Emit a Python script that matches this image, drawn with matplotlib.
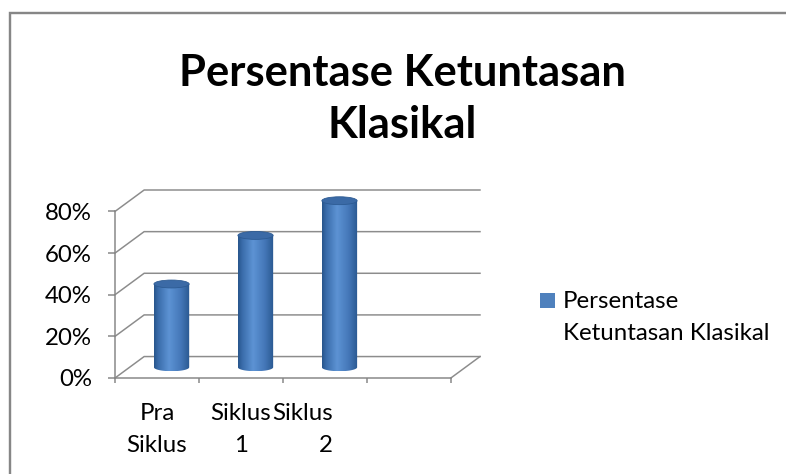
import numpy as np
import matplotlib.pyplot as plt
from matplotlib.patches import Ellipse, Rectangle, PathPatch
from matplotlib.path import Path
from matplotlib.colors import LinearSegmentedColormap
from matplotlib.transforms import ScaledTranslation

W, H = 786, 474
DPI = 72  # 1 pt == 1 px

categories = ["Pra\nSiklus", "Siklus\n1", "Siklus\n2"]
values = [0.40, 0.6333, 0.80]
y_ticks = [0.0, 0.2, 0.4, 0.6, 0.8]
y_labels = ["0%", "20%", "40%", "60%", "80%"]
n_slots = 4  # excel keeps an empty 4th slot on the axis
title = "Persentase Ketuntasan\nKlasikal"
legend_label = "Persentase\nKetuntasan Klasikal"

FONT = "Lato"
GRID = "#8c8c8c"
BLUE = "#4F81BD"

# depth of the 3d box (back wall offset), data units
DX, DY = 0.347, 0.103
BAR_W = 0.42
ELL_H = 0.038

plt.rcParams['font.family'] = FONT

fig = plt.figure(figsize=(W / DPI, H / DPI), dpi=DPI)


def fx(px):
    return px / W


def fy(py):
    return 1 - py / H


# outer frame (runs off the right/bottom edge)
fig.patches.append(Rectangle((fx(9.5), fy(H + 20)), 1.2, fy(12.8) - fy(H + 20),
                             transform=fig.transFigure, fill=False,
                             ec="#868686", lw=2.4))

ax = fig.add_axes([fx(115), fy(378), fx(480) - fx(115), (378 - 190) / H])
ax.set_xlim(0, n_slots + DX)
ax.set_ylim(0, max(y_ticks) + DY)
ax.patch.set_visible(False)

# front axes
for s in ["top", "right"]:
    ax.spines[s].set_visible(False)
ax.spines["left"].set_bounds(0, max(y_ticks))
ax.spines["bottom"].set_bounds(0, n_slots)
for s in ["left", "bottom"]:
    ax.spines[s].set_color("#868686")
    ax.spines[s].set_linewidth(1.5)

ax.set_yticks(y_ticks, y_labels)
ax.set_xticks(range(n_slots + 1), [""] * (n_slots + 1))
ax.set_xticks([i + 0.5 for i in range(len(categories))], categories, minor=True)
ax.tick_params(axis="y", length=7, width=1.5, color="#868686", pad=16,
               labelsize=24)
ax.tick_params(axis="x", which="major", length=5, width=1.5, color="#868686")
ax.tick_params(axis="x", which="minor", length=0, pad=25, labelsize=24)
for lbl in ax.get_xticklabels(minor=True):
    lbl.set_linespacing(1.63)
# last label sits right-aligned in excel, pushed a bit right
last = ax.get_xticklabels(minor=True)[-1]
last.set_horizontalalignment("right")
last.set_multialignment("right")
last.set_transform(last.get_transform() +
                   ScaledTranslation(8 / DPI, 0, fig.dpi_scale_trans))

# back wall gridlines + side wall diagonals
for v in y_ticks:
    ax.plot([0, DX, n_slots + DX], [v, v + DY, v + DY], color=GRID, lw=1.5,
            zorder=1, clip_on=False)
ax.plot([n_slots, n_slots + DX], [0, DY], color=GRID, lw=1.5, zorder=1,
        clip_on=False)

# cylinders
cmap = LinearSegmentedColormap.from_list(
    "cyl", [(0, "#28558c"), (0.12, "#3a6dab"), (0.42, "#5d93d4"),
            (0.75, "#4477b8"), (1, "#2a5890")])
grad = np.linspace(0, 1, 200)[np.newaxis, :]
for i, v in enumerate(values):
    cx = i + 0.5 + DX / 2
    base = DY / 2
    top = v + DY / 2
    hw = BAR_W / 2
    t = np.linspace(np.pi, 2 * np.pi, 40)
    verts = [(cx - hw, top)]
    verts += list(zip(cx + hw * np.cos(t), base + ELL_H / 2 * np.sin(t)))
    verts += [(cx + hw, top), (cx - hw, top)]
    codes = [Path.MOVETO] + [Path.LINETO] * (len(verts) - 2) + [Path.CLOSEPOLY]
    body = PathPatch(Path(verts, codes), fc="none", ec="none", zorder=3)
    ax.add_patch(body)
    im = ax.imshow(grad, cmap=cmap, aspect="auto", zorder=3,
                   extent=[cx - hw, cx + hw, base - ELL_H / 2, top])
    im.set_clip_path(body)
    ax.add_patch(Ellipse((cx, top), 2 * hw, ELL_H, fc="#3b6aa6",
                         ec="#2c5a92", lw=0.8, zorder=4))

ax.set_xlim(0, n_slots + DX)
ax.set_ylim(0, max(y_ticks) + DY)

# title
fig.text(fx(402), fy(53), title, ha="center", va="top", fontsize=43.5,
         fontweight="bold", linespacing=1.36)

# legend
fig.patches.append(Rectangle((fx(540), fy(307.5)), 15 / W, 15 / H,
                             transform=fig.transFigure, fc=BLUE, ec="none"))
fig.text(fx(563), fy(291.5), legend_label, ha="left", va="top", fontsize=24,
         linespacing=1.6)

fig.savefig("out.png", dpi=DPI)
